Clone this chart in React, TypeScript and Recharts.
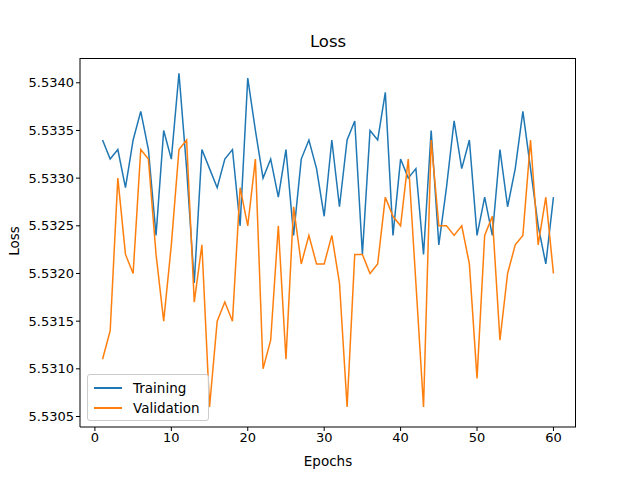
import React from "react";
import { LineChart, Line, XAxis, YAxis, Legend } from "recharts";

const epochs = Array.from({ length: 60 }, (_, i) => i + 1);
const training = [
  5.5334, 5.5332, 5.5333, 5.5329, 5.5334, 5.5337, 5.5333, 5.5324, 5.5335, 5.5332,
  5.5341, 5.5331, 5.5319, 5.5333, 5.5331, 5.5329, 5.5332, 5.5333, 5.5325, 5.53405,
  5.5335, 5.533, 5.5332, 5.5328, 5.5333, 5.5324, 5.5332, 5.5334, 5.5331, 5.5326,
  5.5334, 5.5327, 5.5334, 5.5336, 5.5322, 5.5335, 5.5334, 5.5339, 5.5324, 5.5332,
  5.533, 5.5331, 5.5322, 5.5335, 5.5323, 5.5329, 5.5336, 5.5331, 5.5334, 5.5324,
  5.5328, 5.5324, 5.5333, 5.5327, 5.5331, 5.5337, 5.5331, 5.5325, 5.5321, 5.5328,
];
const validation = [
  5.5311, 5.5314, 5.533, 5.5322, 5.532, 5.5333, 5.5332, 5.5322, 5.5315, 5.5323,
  5.5333, 5.5334, 5.5317, 5.5323, 5.5306, 5.5315, 5.5317, 5.5315, 5.5329, 5.5325,
  5.5332, 5.531, 5.5313, 5.5325, 5.5311, 5.5327, 5.5321, 5.5324, 5.5321, 5.5321,
  5.5324, 5.5319, 5.5306, 5.5322, 5.5322, 5.532, 5.5321, 5.5328, 5.5326, 5.5325,
  5.5332, 5.5319, 5.5306, 5.5334, 5.5325, 5.5325, 5.5324, 5.5325, 5.5321, 5.5309,
  5.5324, 5.5326, 5.5313, 5.532, 5.5323, 5.5324, 5.5334, 5.5323, 5.5328, 5.532,
];
const xTicks = [0, 10, 20, 30, 40, 50, 60];
const yTicks = [5.5305, 5.531, 5.5315, 5.532, 5.5325, 5.533, 5.5335, 5.534];

const data = epochs.map((e, i) => ({ epoch: e, training: training[i], validation: validation[i] }));

const font = "DejaVu Sans, sans-serif";

const LegendBox = () => (
  <div
    style={{
      position: "absolute",
      left: 87,
      top: 374,
      border: "1px solid #ccc",
      borderRadius: 3,
      background: "rgba(255,255,255,0.8)",
      padding: "3px 8px 2px 6px",
      fontFamily: font,
      fontSize: 13.5,
      lineHeight: "20px",
    }}
  >
    {[
      ["Training", "#1f77b4"],
      ["Validation", "#ff7f0e"],
    ].map(([n, c]) => (
      <div key={n} style={{ display: "flex", alignItems: "center" }}>
        <span style={{ display: "inline-block", width: 28, height: 2, background: c, marginRight: 11 }} />
        {n}
      </div>
    ))}
  </div>
);

export default function App() {
  return (
    <div style={{ position: "absolute", left: 0, top: 0, width: 640, height: 480, background: "#fff" }}>
      <div style={{ position: "absolute", top: 32, width: 640, paddingLeft: 16, textAlign: "center", fontFamily: font, fontSize: 16.5, boxSizing: "border-box" }}>
        Loss
      </div>
      <div style={{ position: "absolute", top: 453, left: 80, width: 496, textAlign: "center", fontFamily: font, fontSize: 13.5 }}>
        Epochs
      </div>
      <div style={{ position: "absolute", left: -6, top: 233, width: 40, textAlign: "center", transform: "rotate(-90deg)", fontFamily: font, fontSize: 13.5 }}>
        Loss
      </div>
      <LineChart width={640} height={480} data={data} margin={{ top: 58, right: 64, bottom: 0, left: 8 }}>
        <XAxis
          dataKey="epoch"
          type="number"
          domain={[-1.95, 62.95]}
          ticks={xTicks}
          height={53}
          tickLine={{ stroke: "#000" }}
          tickSize={4}
          axisLine={{ stroke: "#000" }}
          tick={{ fill: "#000", fontSize: 13, fontFamily: font }}
        />
        <YAxis
          type="number"
          domain={[5.53039, 5.53426]}
          ticks={yTicks}
          width={72}
          tickSize={4}
          tickLine={{ stroke: "#000" }}
          axisLine={{ stroke: "#000" }}
          tick={{ fill: "#000", fontSize: 13, fontFamily: font }}
          tickFormatter={(v: number) => v.toFixed(4)}
          allowDataOverflow
        />
        <Legend content={() => <LegendBox />} wrapperStyle={{ position: "absolute", left: 0, top: 0 }} />
        <Line dataKey="training" name="Training" stroke="#1f77b4" strokeWidth={1.5} dot={false} isAnimationActive={false} />
        <Line dataKey="validation" name="Validation" stroke="#ff7f0e" strokeWidth={1.5} dot={false} isAnimationActive={false} />
      </LineChart>
      <div style={{ position: "absolute", left: 80, top: 58, width: 496, height: 369, borderTop: "1px solid #000", borderRight: "1px solid #000", boxSizing: "border-box", pointerEvents: "none" }} />
    </div>
  );
}
